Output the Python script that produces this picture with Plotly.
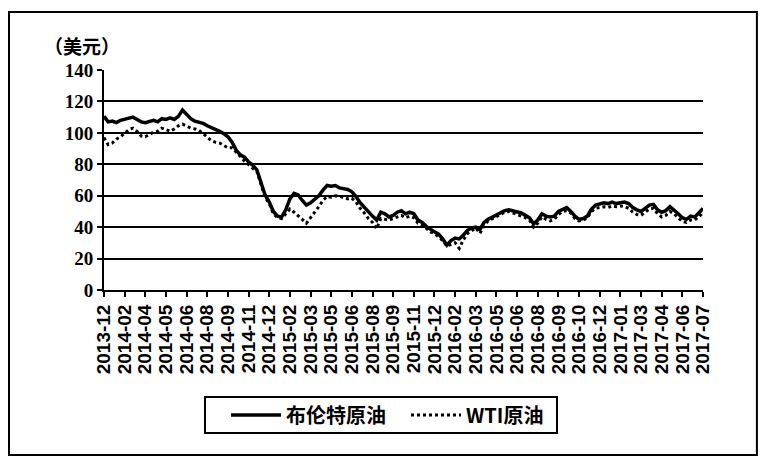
import plotly.graph_objects as go

# Tick labels (category labels shown every 5 data points)
tick_labels = ["2013-12", "2014-02", "2014-04", "2014-05", "2014-06", "2014-08", "2014-09",
               "2014-11", "2014-12", "2015-02", "2015-03", "2015-05", "2015-06", "2015-08",
               "2015-09", "2015-11", "2015-12", "2016-02", "2016-03", "2016-05", "2016-06",
               "2016-08", "2016-09", "2016-10", "2016-12", "2017-01", "2017-03", "2017-04",
               "2017-06", "2017-07"]

# Brent crude (USD)
brent = [110.5, 107, 107.5, 106.5, 108, 108.5, 109.5, 110, 108.5, 107,
         106.5, 107.5, 108, 107, 109, 108.5, 109.5, 108.5, 110.5, 114.5,
         112, 109, 107.5, 107, 106, 104.5, 103.5, 102.5, 101, 99.5,
         97.5, 94, 89, 86, 84.5, 81.5, 79.5, 76.5, 68, 60.5,
         56, 50, 47, 46.5, 51, 58, 61.5, 60.5, 57, 54,
         55.5, 57.5, 60, 63.5, 66.5, 66, 66.5, 65, 64.5, 64,
         62.5, 59.5, 55.5, 52.5, 50, 47, 44.5, 49.5, 48.5, 46.5,
         47.5, 49.5, 50.5, 48.5, 49.5, 48.5, 44.5, 43, 40.5, 38.5,
         37, 35.5, 32.5, 28.5, 31.5, 33, 32.5, 35, 38, 39.5,
         40, 38.5, 43, 45, 46.5, 47.5, 49, 50.5, 51, 50.5,
         50, 49, 47.5, 46, 42, 44.5, 48.5, 47, 46.5, 47,
         50, 51.5, 52.5, 50, 47, 45, 45.5, 47, 51.5, 54,
         54.5, 55.5, 55, 56, 55, 55.5, 56, 55, 52.5, 51,
         50, 52, 54, 54.5, 51, 49.5, 50.5, 53, 51, 48.5,
         46, 45, 47, 46.5, 49, 52]

# WTI crude (USD)
wti = [97, 92.5, 93.5, 96, 97.5, 100, 102, 103, 101, 98,
       97.5, 99, 100.5, 101, 103, 102, 101, 102.5, 104.5, 105.5,
       104, 103, 102.5, 101.5, 99.5, 97, 95, 94, 93.5, 92,
       90.5, 90.5, 88, 85, 82, 79.5, 77.5, 75.5, 67, 59,
       55, 48.5, 46, 45.5, 48.5, 51.5, 49.5, 47.5, 45, 42.5,
       46, 49, 53, 57, 59.5, 59, 60, 59.5, 59, 58,
       58.5, 56, 52, 49, 45.5, 43, 39, 45.5, 45, 44.5,
       45.5, 46.5, 47.5, 46, 47, 46, 42.5, 41.5, 39, 37,
       36, 34, 31.5, 28, 29, 30, 26.5, 32, 36, 38,
       39.5, 36, 41, 44, 45.5, 46.5, 48, 49.5, 50, 49,
       48.5, 47.5, 46, 44.5, 40, 42.5, 46.5, 45, 44, 45,
       48, 50, 50.5, 49, 45.5, 44, 44.5, 46, 50, 52,
       52.5, 53, 52.5, 53.5, 53, 53.5, 53, 52, 49.5, 48,
       47.5, 49.5, 51.5, 52, 48.5, 46.5, 47.5, 50, 48.5, 46,
       43.5, 43, 44.5, 44.5, 46.5, 49]

series_names = ["布伦特原油", "WTI原油"]
y_ticks = [0, 20, 40, 60, 80, 100, 120, 140]
unit_label = "（美元）"

step = 5
x = list(range(len(brent)))
tickvals = [i * step for i in range(len(tick_labels))]

fig = go.Figure()
fig.add_trace(go.Scatter(x=x, y=brent, mode="lines", name=series_names[0],
                         line=dict(color="black", width=3.5)))
fig.add_trace(go.Scatter(x=x, y=wti, mode="lines", name=series_names[1],
                         line=dict(color="black", width=3, dash="dot")))

fig.update_layout(
    width=758, height=455,
    margin=dict(l=96, r=63, t=62, b=173),
    paper_bgcolor="white", plot_bgcolor="white",
    showlegend=True,
    legend=dict(orientation="h", x=0.2037, y=-0.568, xanchor="left", yanchor="middle",
                borderwidth=0, bgcolor="rgba(0,0,0,0)",
                font=dict(family="Noto Sans CJK SC", size=20, color="black", weight="bold"),
                itemwidth=50, entrywidth=115, tracegroupgap=0),
    annotations=[dict(text=unit_label, xref="paper", yref="paper", x=-0.037, y=1.112,
                      xanchor="center", yanchor="middle", showarrow=False,
                      font=dict(family="Noto Sans CJK SC", size=19, color="black", weight="bold"))],
    shapes=[
        dict(type="rect", xref="paper", yref="paper", x0=-0.1586, x1=1.09,
             y0=-0.75, y1=1.2636, line=dict(color="black", width=2)),
        # legend frame
        dict(type="rect", xref="paper", yref="paper", x0=(205 - 104) / 599, x1=(557 - 104) / 599,
             y0=(290 - 433) / 220, y1=(290 - 397) / 220, line=dict(color="black", width=2)),
    ],
)

fig.update_xaxes(range=[0, len(brent) - 1], tickmode="array", tickvals=tickvals,
                 ticktext=tick_labels, tickangle=-90, showgrid=False, zeroline=False,
                 showline=True, linecolor="black", linewidth=2,
                 ticks="outside", ticklen=5, tickwidth=1.5, tickcolor="black",
                 tickfont=dict(family="Liberation Sans", size=19, color="black", weight="bold"))
fig.update_yaxes(range=[0, 140], tickmode="array", tickvals=y_ticks,
                 showgrid=True, gridcolor="black", gridwidth=1.5, zeroline=False,
                 showline=True, linecolor="black", linewidth=2,
                 ticks="outside", ticklen=5, tickwidth=1.5, tickcolor="black",
                 tickfont=dict(family="Liberation Serif", size=19, color="black", weight="bold"))

fig.write_html("out.html")
